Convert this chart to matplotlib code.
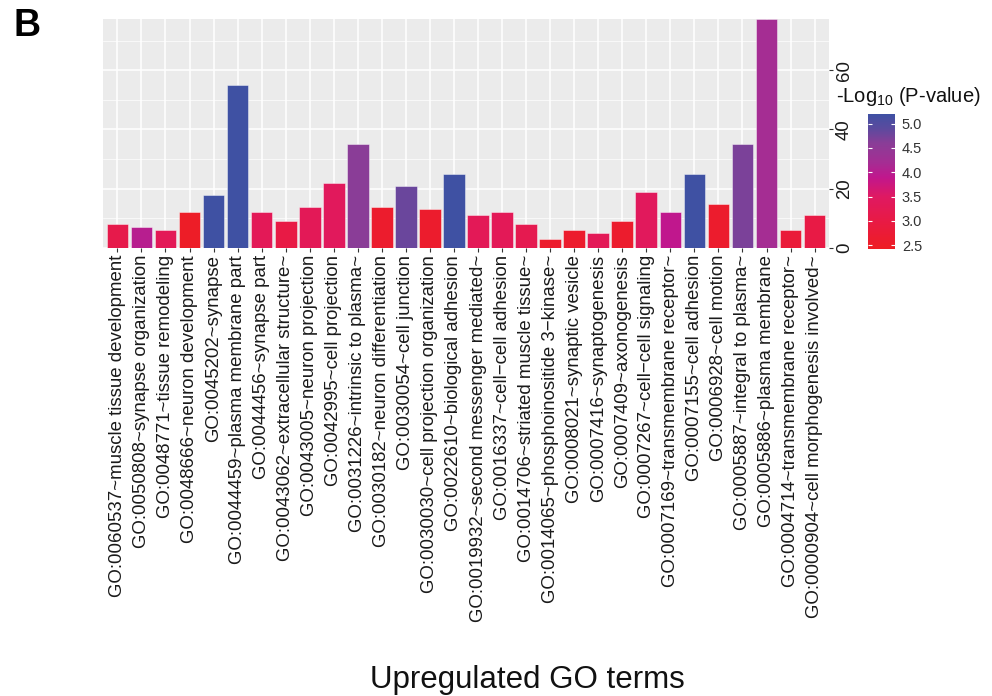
import numpy as np
import matplotlib
matplotlib.use("Agg")
import matplotlib.pyplot as plt
from matplotlib.colors import LinearSegmentedColormap, Normalize
from matplotlib.cm import ScalarMappable

plt.rcParams['font.family'] = ['Liberation Sans', 'DejaVu Sans']
plt.rcParams['mathtext.default'] = 'regular'

terms = [
    "GO:0060537~muscle tissue development",
    "GO:0050808~synapse organization",
    "GO:0048771~tissue remodeling",
    "GO:0048666~neuron development",
    "GO:0045202~synapse",
    "GO:0044459~plasma membrane part",
    "GO:0044456~synapse part",
    "GO:0043062~extracellular structure~",
    "GO:0043005~neuron projection",
    "GO:0042995~cell projection",
    "GO:0031226~intrinsic to plasma~",
    "GO:0030182~neuron differentiation",
    "GO:0030054~cell junction",
    "GO:0030030~cell projection organization",
    "GO:0022610~biological adhesion",
    "GO:0019932~second messenger mediated~",
    "GO:0016337~cell\u2212cell adhesion",
    "GO:0014706~striated muscle tissue~",
    "GO:0014065~phosphoinositide 3\u2212kinase~",
    "GO:0008021~synaptic vesicle",
    "GO:0007416~synaptogenesis",
    "GO:0007409~axonogenesis",
    "GO:0007267~cell\u2212cell signaling",
    "GO:0007169~transmembrane receptor~",
    "GO:0007155~cell adhesion",
    "GO:0006928~cell motion",
    "GO:0005887~integral to plasma~",
    "GO:0005886~plasma membrane",
    "GO:0004714~transmembrane receptor~",
    "GO:0000904~cell morphogenesis involved~",
]

# bar height (count) and -log10 p-value used for the fill
counts = [8, 7, 6, 12, 18, 55, 12, 9, 14, 22, 35, 14, 21, 13, 25,
          11, 12, 8, 3, 6, 5, 9, 19, 12, 25, 15, 35, 77.3, 6, 11]
neglogp = [3.1, 4.0, 3.3, 2.5, 5.2, 5.2, 3.3, 3.0, 3.3, 3.4, 4.6, 2.6, 4.8, 2.6, 5.2,
           3.3, 3.3, 3.2, 2.6, 2.6, 3.3, 2.6, 3.4, 3.9, 5.2, 2.6, 4.7, 4.2, 2.8, 3.0]

vmin, vmax = 2.42, 5.2
cb_ticks = [2.5, 3.0, 3.5, 4.0, 4.5, 5.0]

stops = [(2.42, "#ee1d23"), (3.0, "#e81a45"), (3.5, "#df1962"), (3.9, "#c0178d"),
         (4.2, "#a52d93"), (4.6, "#8a3d97"), (4.9, "#5c4a9e"), (5.2, "#3f51a3")]
cmap = LinearSegmentedColormap.from_list(
    "pval", [((v - vmin) / (vmax - vmin), c) for v, c in stops])
norm = Normalize(vmin, vmax)

fig = plt.figure(figsize=(9.92, 6.96), dpi=100)
ax = fig.add_axes([0.1038, 0.6437, 0.7319, 0.329])
ax.set_facecolor("#ebebeb")

x = np.arange(1, len(terms) + 1)
ax.bar(x, counts, width=0.9, color=cmap(norm(np.array(neglogp))),
       edgecolor=(1, 1, 1, 0.5), linewidth=0.6, zorder=3)

ax.set_xlim(0.4, len(terms) + 0.6)
ax.set_ylim(0, max(counts))
ax.set_xticks(x)
ax.set_xticklabels(terms, rotation=90, fontsize=13.4, color="#1a1a1a")
ax.set_yticks([0, 20, 40, 60])
ax.set_yticks([10, 30, 50, 70], minor=True)
ax.yaxis.tick_right()
ax.tick_params(axis="y", which="major", labelsize=13.4, labelrotation=90,
               length=3, color="#333333", labelcolor="#1a1a1a", pad=2)
ax.tick_params(axis="y", which="minor", length=0)
ax.tick_params(axis="x", length=3, color="#333333", pad=2)
for lbl in ax.get_yticklabels():
    lbl.set_va("center")
ax.grid(True, which="major", color="white", linewidth=1.1, zorder=0)
ax.grid(True, which="minor", axis="y", color="white", linewidth=0.5, zorder=0)
for s in ax.spines.values():
    s.set_visible(False)

# colour legend
cax = fig.add_axes([868 / 992, 1 - 249 / 696, 27 / 992, 135 / 696])
cb = fig.colorbar(ScalarMappable(norm=norm, cmap=cmap), cax=cax, ticks=cb_ticks)
cb.outline.set_visible(False)
cb.ax.set_yticklabels([f"{t:.1f}" for t in cb_ticks])
cb.ax.tick_params(labelsize=10.5, direction="in", color="white", length=3,
                  left=True, right=True, width=0.8, labelcolor="#333333", pad=5)
fig.text(836 / 992, 1 - 96 / 696, r"-Log$_{10}$ (P-value)", fontsize=14.5,
         ha="left", va="center", color="#111111")

fig.text(14 / 992, 1 - 26 / 696, "B", fontsize=27, fontweight="bold",
         ha="left", va="center")
fig.text(527 / 992, 1 - 680 / 696, "Upregulated GO terms", fontsize=22.5,
         ha="center", va="center", color="#111111")

fig.savefig("out.png", dpi=100)
